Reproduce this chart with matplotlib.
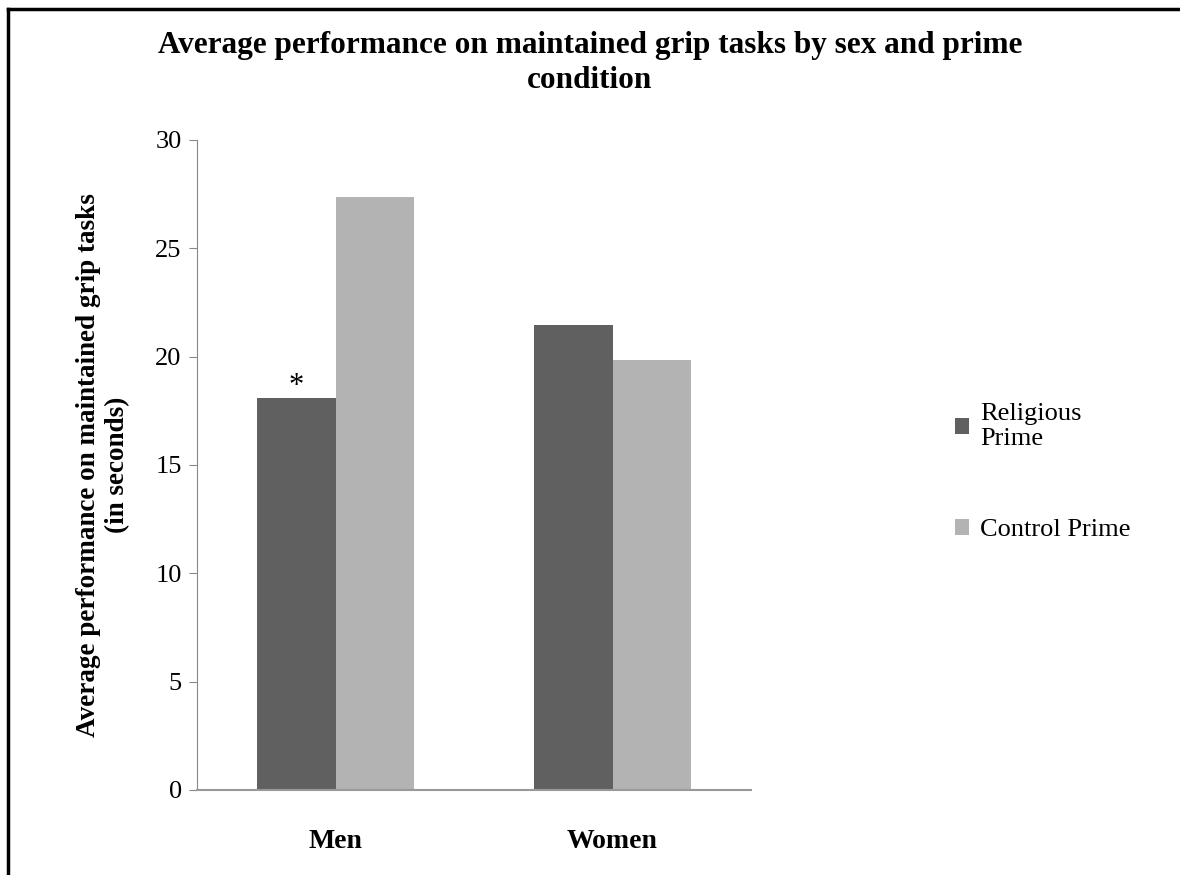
import numpy as np
import matplotlib
matplotlib.use('Agg')
import matplotlib.pyplot as plt
from matplotlib.lines import Line2D

plt.rcParams['font.family'] = ['Liberation Serif', 'DejaVu Serif']

groups = ['Men', 'Women']
series = ['Religious\nPrime', 'Control Prime']
religious = [18.07, 21.45]
control = [27.35, 19.83]
colors = ['#606060', '#b3b3b3']

fig = plt.figure(figsize=(11.8, 8.75), dpi=100)
ax = fig.add_axes([197/1180, 1-790/875, 554/1180, 650/875])

x = np.arange(len(groups))
w = 0.285
ax.bar(x - w/2, religious, w, color=colors[0], label=series[0])
ax.bar(x + w/2, control, w, color=colors[1], label=series[1])

# significance marker over men / religious
ax.text(x[0] - w/2, religious[0] - 0.1, '*', ha='center', va='bottom', fontsize=22)

ax.set_xlim(-0.5, 1.5)
ax.set_ylim(0, 30)
ax.set_yticks(range(0, 31, 5))
ax.set_xticks(x)
ax.set_xticklabels(groups, fontsize=20, fontweight='bold')
ax.tick_params(axis='y', labelsize=19, color='#888888', length=6, direction='out', pad=5)
ax.tick_params(axis='x', length=0, pad=28)
for s in ['top', 'right']:
    ax.spines[s].set_visible(False)
ax.spines['left'].set_color('#888888')
ax.spines['bottom'].set_color('#999999')
ax.spines['bottom'].set_linewidth(1.5)

ax.set_ylabel('Average performance on maintained grip tasks\n(in seconds)',
              fontsize=19.5, fontweight='bold', labelpad=18, linespacing=1.25)

fig.text(0.5, 1-63/875, 'Average performance on maintained grip tasks by sex and prime\ncondition',
         ha='center', va='center', fontsize=22.5, fontweight='bold', linespacing=1.3)

leg = ax.legend(loc='center left', bbox_to_anchor=(1.368, 0.489), frameon=False,
                fontsize=19, handlelength=0.55, handleheight=0.55, handletextpad=0.4,
                labelspacing=2.6, borderpad=0, borderaxespad=0)

# outer frame (left and top only)
fig.add_artist(Line2D([7.5/1180, 7.5/1180], [0, 1-8.5/875], color='black', lw=2.5))
fig.add_artist(Line2D([7.5/1180, 1], [1-8.5/875, 1-8.5/875], color='black', lw=2.5))

fig.savefig('out.png', dpi=100)
